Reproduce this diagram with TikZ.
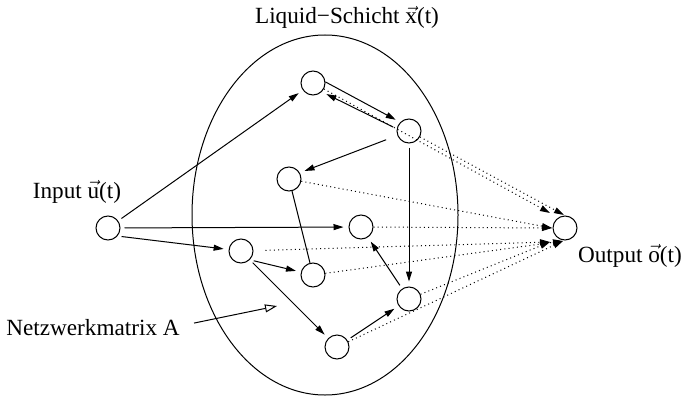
\documentclass[tikz,border=0pt]{standalone}
\usepackage{amsmath}
\usepackage{fontspec}
\setmainfont{Liberation Serif}
\usetikzlibrary{arrows.meta,calc}

\begin{document}
\begin{tikzpicture}[x=0.5pt,y=-0.5pt,
        knoten/.style={draw,circle,inner sep=0pt,minimum size=12pt,line width=0.5pt},
        pfeil/.style={-{Triangle[length=5pt,width=3pt]},line width=0.5pt,shorten >=2.5pt,shorten <=2pt},
        linie/.style={line width=0.5pt},
        punktiert/.style={-{Triangle[length=5pt,width=3pt]},line width=0.5pt,dash pattern=on 0.5pt off 1.6pt},
        hohlpfeil/.style={-{Triangle[open,length=6pt,width=4pt]},line width=0.5pt},
        beschriftung/.style={font=\fontsize{11.6}{14}\selectfont,inner sep=0pt,anchor=base}]
        \useasboundingbox (0,0) rectangle (684,401);
        % Liquid-Schicht
        \draw[linie] (325,215) ellipse [x radius=66.5pt,y radius=90pt];
        \node[knoten] (i) at (108,228) {};
        \node[knoten] (o) at (565,228) {};
        \node[knoten] (n1) at (313,83) {};
        \node[knoten] (n2) at (409,131) {};
        \node[knoten] (n3) at (289,179) {};
        \node[knoten] (n4) at (361,227) {};
        \node[knoten] (n5) at (241,251) {};
        \node[knoten] (n6) at (313,275) {};
        \node[knoten] (n7) at (409,299) {};
        \node[knoten] (n8) at (337,347) {};
        % Beschriftungen
        \node[beschriftung] (titel) at (347,24) {Liquid−Schicht $\vec{\text{x}}$(t)};
        \node[beschriftung] (input) at (77,198) {Input $\vec{\text{u}}$(t)};
        \node[beschriftung] (output) at (630,262) {Output $\vec{\text{o}}$(t)};
        \node[beschriftung] (netz) at (93,335) {Netzwerkmatrix A};
        \coordinate (netzspitze) at (277,306);
        % Spitzen am Ausgang
        \coordinate (oa) at (550,213);
        \coordinate (ob) at (564,215);
        \coordinate (oc) at (552,228);
        \coordinate (od) at (550,242);
        \coordinate (oe) at (563,241);
        % Eingaenge
        \draw[pfeil] (i) -- (n1);
        \draw[pfeil] (i) -- (n4);
        \draw[pfeil] (i.-40) -- (n5);
        % Verbindungen in der Schicht
        \draw[pfeil,shorten <=0pt] (n1.5) -- (n2.135);
        \draw[pfeil] (n2.170) -- (n1.-45);
        \draw[pfeil,shorten <=6pt] (n2) -- (n3.30);
        \draw[pfeil] (n2) -- (n7);
        \draw[linie] (n3) -- (n6);
        \draw[pfeil] (n5.-45) -- (n6);
        \draw[pfeil] (n5.-45) -- (n8);
        \draw[pfeil] (n8) -- (n7);
        \draw[pfeil] (n7) -- (n4);
        % Ausgaenge
        \draw[punktiert] (n1) -- (oa);
        \draw[punktiert] (n2) -- (ob);
        \draw[punktiert] (n3) -- (oc);
        \draw[punktiert] (n4) -- (oc);
        \draw[punktiert,shorten <=6pt] (n5) -- (od);
        \draw[punktiert] (n6) -- (oe);
        \draw[punktiert] (n7) -- (od);
        \draw[punktiert] (n8) -- (oe);
        \draw[hohlpfeil] ([xshift=7pt,yshift=2pt]netz.east) -- (netzspitze);
\end{tikzpicture}
\end{document}
